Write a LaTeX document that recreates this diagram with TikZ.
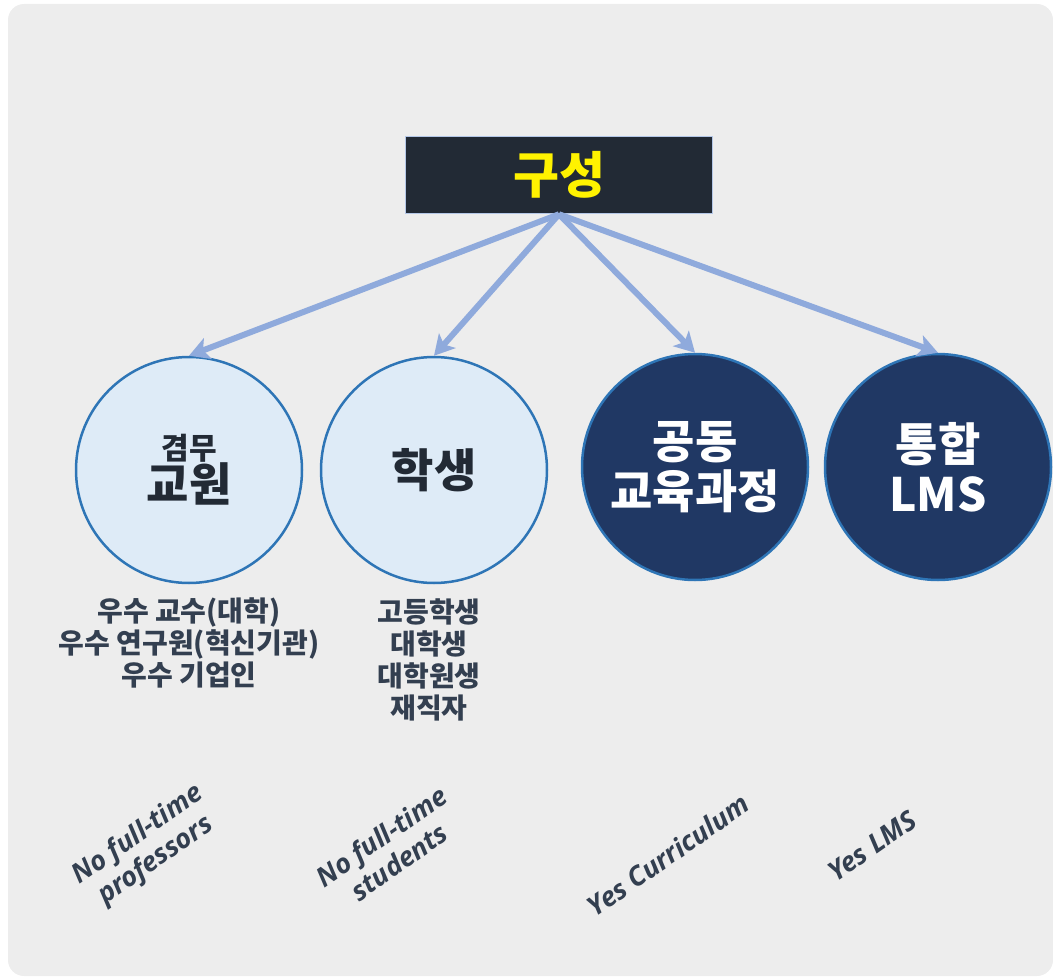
\documentclass[tikz,border=0pt]{standalone}
\usepackage{fontspec}
\usetikzlibrary{arrows.meta}
\newfontfamily\kr{Noto Sans CJK KR}
\newfontfamily\en{Open Sans}

\definecolor{bgcolor}{HTML}{EDEDED}
\definecolor{headfill}{HTML}{222A35}
\definecolor{headline}{HTML}{B4C7E7}
\definecolor{arrowcol}{HTML}{8FAADC}
\definecolor{ringcol}{HTML}{2E75B6}
\definecolor{lightfill}{HTML}{DEEBF7}
\definecolor{darkfill}{HTML}{203864}
\definecolor{textcol}{HTML}{333F50}
\definecolor{inkcol}{HTML}{222A35}

\tikzset{
	orgpicture/.style = {
		x = 1pt,
		y = -1pt,
		arrow/.style = {
			draw = arrowcol,
			line width = 6pt,
			-{Stealth[length=20pt, width=22pt, inset=5pt]},
		}
	},
	headnode/.style = {
		draw = headline,
		line width = 1.5pt,
		fill = headfill,
		minimum width = 307pt,
		minimum height = 77pt,
		text = yellow,
		font = \kr\bfseries\fontsize{50}{56}\selectfont
	},
	partnode/.style = {
		circle,
		draw = ringcol,
		line width = 2.5pt,
		minimum size = 226pt,
		inner sep = 0pt,
		align = center
	},
	light/.style = {
		fill = lightfill,
		text = inkcol
	},
	dark/.style = {
		fill = darkfill,
		text = white,
		font = \kr\bfseries\fontsize{46}{50}\selectfont
	},
	listnode/.style = {
		align = center,
		text = textcol,
		font = \kr\bfseries\fontsize{28}{32}\selectfont
	},
	notenode/.style = {
		align = center,
		text = textcol,
		rotate = 35,
		font = \en\bfseries\itshape\fontsize{27}{31}\selectfont
	}
}

\begin{document}
\begin{tikzpicture}[orgpicture]
	\useasboundingbox (0,0) rectangle (1053,979);
	\fill[bgcolor, rounded corners = 16pt] (8,4) rectangle (1053,976);

	\node[headnode] (H) at (559,175) {구성};

	\node[partnode, light, font = \kr\bfseries\fontsize{46}{50}\selectfont] (T) at (189,470) {{\fontsize{30}{34}\selectfont 겸무}\\[-8pt]교원};
	\node[partnode, light, font = \kr\bfseries\fontsize{46}{50}\selectfont] (S) at (434,470) {학생};
	\node[partnode, dark] (C) at (695,467) {공동\\교육과정};
	\node[partnode, dark] (L) at (938,467) {통합\\LMS};

	\node[listnode] (Tl) at (189,643) {우수 교수(대학)\\우수 연구원(혁신기관)\\우수 기업인};
	\node[listnode] (Sl) at (429,660) {고등학생\\대학생\\대학원생\\재직자};

	\node[notenode] (Tn) at (147,848) {No full-time\\professors};
	\node[notenode] (Sn) at (390,849) {No full-time\\students};
	\node[notenode] (Cn) at (668,855) {Yes Curriculum};
	\node[notenode] (Ln) at (872,846) {Yes LMS};

	\begin{scope}[every path/.style = arrow]
		\path (H.south) to (T.north);
		\path (H.south) to (S.north);
		\path (H.south) to (C.north);
		\path (H.south) to (L.north);
	\end{scope}
\end{tikzpicture}
\end{document}
